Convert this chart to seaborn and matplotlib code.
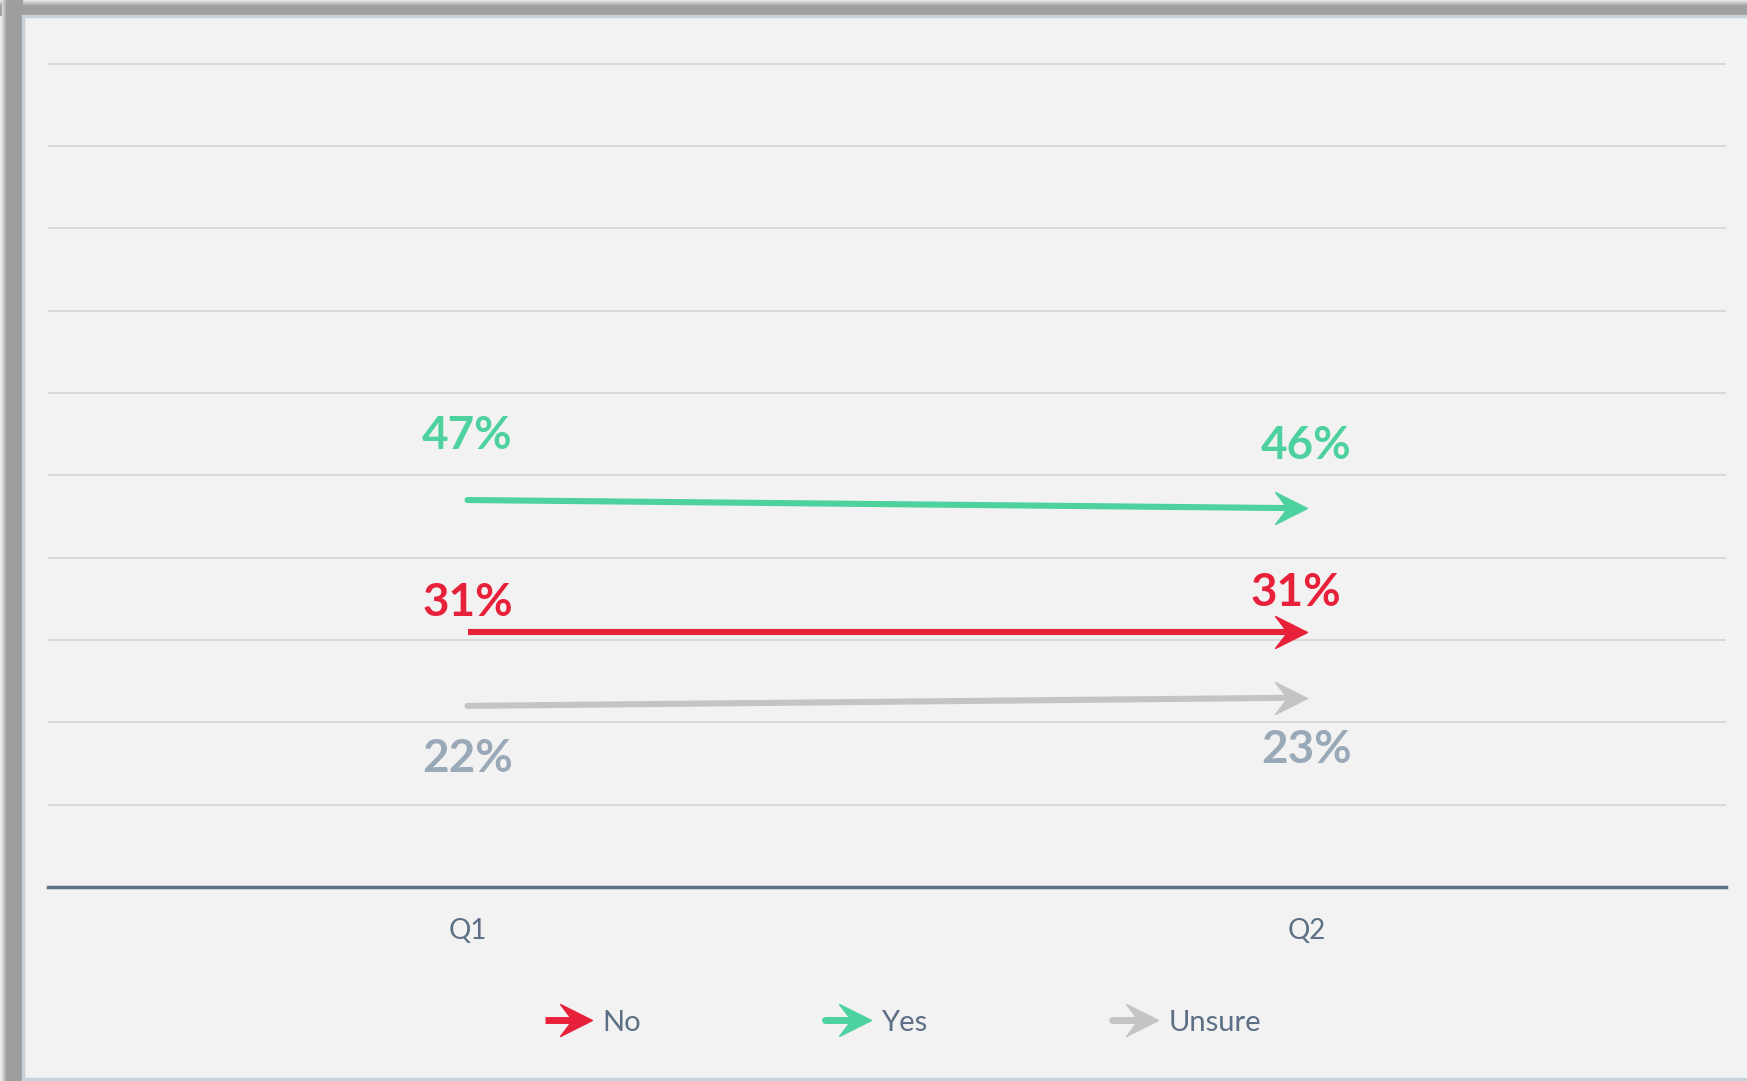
import numpy as np
import pandas as pd
import matplotlib
matplotlib.use("Agg")
import matplotlib.pyplot as plt
import seaborn as sns
from matplotlib.path import Path
from matplotlib.lines import Line2D
from matplotlib.patches import Rectangle
from matplotlib.legend_handler import HandlerBase

# --- data ---
quarters = ["Q1", "Q2"]
series = ["No", "Yes", "Unsure"]
no_vals = [0.31, 0.31]
yes_vals = [0.47, 0.46]
unsure_vals = [0.22, 0.23]

# --- styling ---
line_colors = {"No": "#e8213b", "Yes": "#4dd19f", "Unsure": "#c4c4c4"}
label_colors = {"No": "#e8213b", "Yes": "#4dd19f", "Unsure": "#9aa9b8"}
cap_styles = {"No": "butt", "Yes": "round", "Unsure": "round"}
TEXT_COLOR = "#5d6f85"
BG = "#f2f2f2"
# label offsets (points) for (Q1, Q2)
label_offsets = {
    "Yes": [(0, 46), (0, 45)],
    "No": [(0, 21), (-8, 28)],
    "Unsure": [(0, -38), (0, -38)],
}

# stealth-style arrow head, tip at origin
HEAD = Path([(0, 0), (-1.0, 0.5), (-0.62, 0), (-1.0, -0.5), (0, 0)],
            [Path.MOVETO, Path.LINETO, Path.LINETO, Path.LINETO, Path.CLOSEPOLY])
HEAD_SIZE = 46  # points

sns.set_theme(style="whitegrid", rc={
    "axes.facecolor": BG,
    "figure.facecolor": BG,
    "grid.color": "#d9d9d9",
    "grid.linewidth": 1.4,
})
plt.rcParams["font.family"] = ["Lato", "DejaVu Sans"]

df = pd.DataFrame({
    "pos": np.tile(np.arange(len(quarters)), len(series)),
    "value": no_vals + yes_vals + unsure_vals,
    "series": np.repeat(series, len(quarters)),
})

W, H = 1747, 1081
fig = plt.figure(figsize=(W / 100, H / 100), dpi=100)
ax = fig.add_axes([48 / W, 1 - 887 / H, (1726 - 48) / W, (887 - 62) / H])

sns.lineplot(data=df, x="pos", y="value", hue="series", hue_order=series,
             palette=line_colors, linewidth=4.4, ax=ax, legend=False)

ax.set_xlim(-0.5, len(quarters) - 0.5)
ax.set_ylim(0, 1.002)

# stop each line where the arrow head's notch starts
px_per_unit = ax.get_window_extent().width / (len(quarters))
cut = 18 / px_per_unit
for line, name in zip(ax.lines, series):
    line.set_solid_capstyle(cap_styles[name])
    clip = Rectangle((-0.5, 0), len(quarters) - 0.5 - cut, 1.1, transform=ax.transData)
    line.set_clip_path(clip)

vals = {"No": no_vals, "Yes": yes_vals, "Unsure": unsure_vals}
for name in series:
    v = vals[name]
    ax.plot([len(quarters) - 1], [v[-1]], marker=HEAD, markersize=HEAD_SIZE,
            color=line_colors[name], linestyle="none", zorder=4)
    for i, q in enumerate(quarters):
        ax.annotate(f"{v[i] * 100:.0f}%", xy=(i, v[i]), xytext=label_offsets[name][i],
                    textcoords="offset points", ha="center", va="center",
                    fontsize=33, fontweight="bold", color=label_colors[name])

ax.set_yticks(np.arange(0.1, 1.01, 0.1))
ax.set_yticklabels([])
ax.set_xticks(range(len(quarters)))
ax.set_xticklabels(quarters)
ax.tick_params(axis="x", length=0, pad=22, labelsize=20, labelcolor=TEXT_COLOR)
ax.tick_params(axis="y", length=0)
ax.grid(axis="x", visible=False)
ax.set_xlabel("")
ax.set_ylabel("")
for s in ["left", "right", "top"]:
    ax.spines[s].set_visible(False)
ax.spines["bottom"].set_color(TEXT_COLOR)
ax.spines["bottom"].set_linewidth(2.5)
ax.spines["bottom"].set_zorder(5)


class ArrowHandler(HandlerBase):
    def create_artists(self, legend, orig_handle, xdescent, ydescent, width, height, fontsize, trans):
        y = height / 2 - ydescent
        c = orig_handle.get_color()
        line = Line2D([-xdescent, width - xdescent - 14], [y, y], color=c, lw=5,
                      solid_capstyle=orig_handle.get_solid_capstyle(), transform=trans)
        head = Line2D([width - xdescent], [y], marker=HEAD, markersize=HEAD_SIZE, color=c,
                      linestyle="none", transform=trans)
        return [line, head]


handles = [Line2D([], [], color=line_colors[s], solid_capstyle=cap_styles[s]) for s in series]
fig.legend(handles, series, loc="center", bbox_to_anchor=(0.517, 0.054), ncol=3,
           frameon=False, fontsize=21, labelcolor=TEXT_COLOR,
           handler_map={Line2D: ArrowHandler()}, handlelength=1.6,
           handletextpad=0.35, columnspacing=6.3)


# window-like border on the top and left edges
def px_rect(x0, y0, w, h, color):
    fig.patches.append(Rectangle((x0 / W, 1 - (y0 + h) / H), w / W, h / H,
                                 transform=fig.transFigure, color=color, zorder=0))


px_rect(0, 0, W, 17, "#ececec")
px_rect(0, 0, 24, H, "#ececec")
px_rect(0, 1, W, 2, "#d4d4d4")
px_rect(0, 3, W, 2, "#bababa")
px_rect(0, 5, W, 10, "#a0a0a0")
px_rect(2, 0, 2, H, "#d4d4d4")
px_rect(4, 0, 2, H, "#b8b8b8")
px_rect(6, 0, 16, H, "#9e9e9e")
px_rect(22, 15, W, 2, "#c8d0d8")
px_rect(22, 15, 2, H, "#c8d0d8")
px_rect(22, H - 3, W, 3, "#c8d0d8")

fig.savefig("out.png", dpi=100, facecolor=BG)
